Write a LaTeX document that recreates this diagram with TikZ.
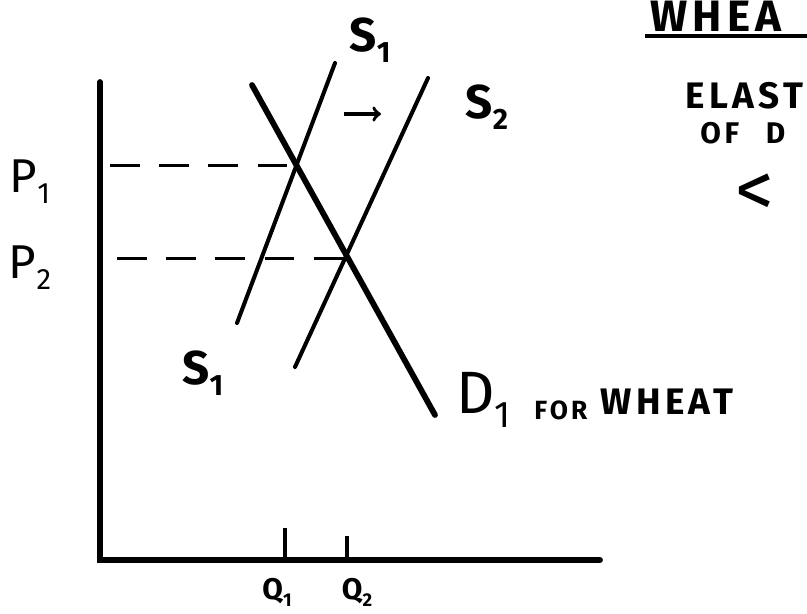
\documentclass[tikz,border=0pt]{standalone}
\usepackage{fontspec}
\setmainfont{Fira Sans}
\newfontfamily\handwide[LetterSpace=12]{Fira Sans}
\usetikzlibrary{arrows}

\newcommand{\lbl}[2]{#1\raisebox{-0.45ex}{\scalebox{0.62}{#2}}}

\tikzset{
  axis/.style={line width=3.3pt, line cap=round},
  supply/.style={line width=2.3pt, line cap=round},
  demand/.style={line width=3.3pt, line cap=round},
  guide/.style={line width=1.7pt, dash pattern=on 17pt off 11pt},
  tick/.style={line width=1.8pt},
  hand/.style={inner sep=0pt, font=\bfseries}
}

\begin{document}
\begin{tikzpicture}[x=0.02cm, y=-0.02cm]
\useasboundingbox (0,0) rectangle (807,613);
\clip (0,0) rectangle (807,613);

% axes
\coordinate (Ytop) at (100,82);
\coordinate (O) at (100,560);
\coordinate (Xend) at (600,560);
\draw[axis] (Ytop) -- (O) -- (Xend);

% curves
\coordinate (S1lo) at (237,323);
\coordinate (S1hi) at (335,63);
\coordinate (S2lo) at (295,367);
\coordinate (S2hi) at (428,78);
\coordinate (Dhi) at (252,85);
\coordinate (Dlo) at (435,415);
\draw[supply] (S1lo) -- (S1hi);
\draw[supply] (S2lo) -- (S2hi);
\draw[demand] (Dhi) -- (Dlo);

% equilibria
\coordinate (E1) at (295,165);
\coordinate (E2) at (345,258);
\coordinate (P1a) at (110,165);
\coordinate (P2a) at (117,258);
\draw[guide] (P1a) -- (E1);
\draw[guide] (P2a) -- (E2);

\coordinate (Q1t) at (285,528);
\coordinate (Q1b) at (285,562);
\coordinate (Q2t) at (347,536);
\coordinate (Q2b) at (347,562);
\draw[tick] (Q1t) -- (Q1b);
\draw[tick] (Q2t) -- (Q2b);

% shift
\coordinate (shA) at (344,114);
\coordinate (shB) at (381,114);
\draw[line width=2pt, ->] (shA) -- (shB);

% labels
\node[hand, font=\bfseries\fontsize{27}{27}\selectfont] (s1top) at (370,40) {\lbl{S}{1}};
\node[hand, font=\bfseries\fontsize{27}{27}\selectfont] (s2) at (487,107) {\lbl{S}{2}};
\node[hand, font=\bfseries\fontsize{27}{27}\selectfont] (s1bot) at (203,373) {\lbl{S}{1}};
\node[hand, font=\fontsize{27}{27}\selectfont] (p1) at (30,182) {\lbl{P}{1}};
\node[hand, font=\fontsize{27}{27}\selectfont] (p2) at (30,268) {\lbl{P}{2}};
\node[hand, font=\bfseries\fontsize{17}{17}\selectfont] (q1) at (277,592) {\lbl{Q}{1}};
\node[hand, font=\bfseries\fontsize{17}{17}\selectfont] (q2) at (357,592) {\lbl{Q}{2}};
\node[hand, font=\fontsize{34}{34}\selectfont, anchor=west] (d1) at (456,400) {\lbl{D}{1}};
\node[hand, font=\handwide\bfseries\fontsize{15}{15}\selectfont, anchor=west] (for) at (534,410) {FOR};
\node[hand, font=\handwide\bfseries\fontsize{21}{21}\selectfont, anchor=west] (wheat) at (600,402) {WHEAT};

% heading at the right
\node[hand, font=\handwide\bfseries\fontsize{25}{25}\selectfont, anchor=west] (title) at (650,16) {WHEA};
\coordinate (ulA) at (645,36);
\coordinate (ulB) at (807,36);
\draw[line width=2.4pt] (ulA) -- (ulB);
\node[hand, font=\handwide\bfseries\fontsize{21}{21}\selectfont, anchor=west] (elast) at (685,96) {ELAST};
\node[hand, font=\handwide\bfseries\fontsize{17}{17}\selectfont, anchor=west] (ofd) at (700,133) {OF\hspace{0.9em}D};
\node[hand, font=\fontsize{44}{44}\selectfont] (less) at (755,195) {<};
\end{tikzpicture}
\end{document}
